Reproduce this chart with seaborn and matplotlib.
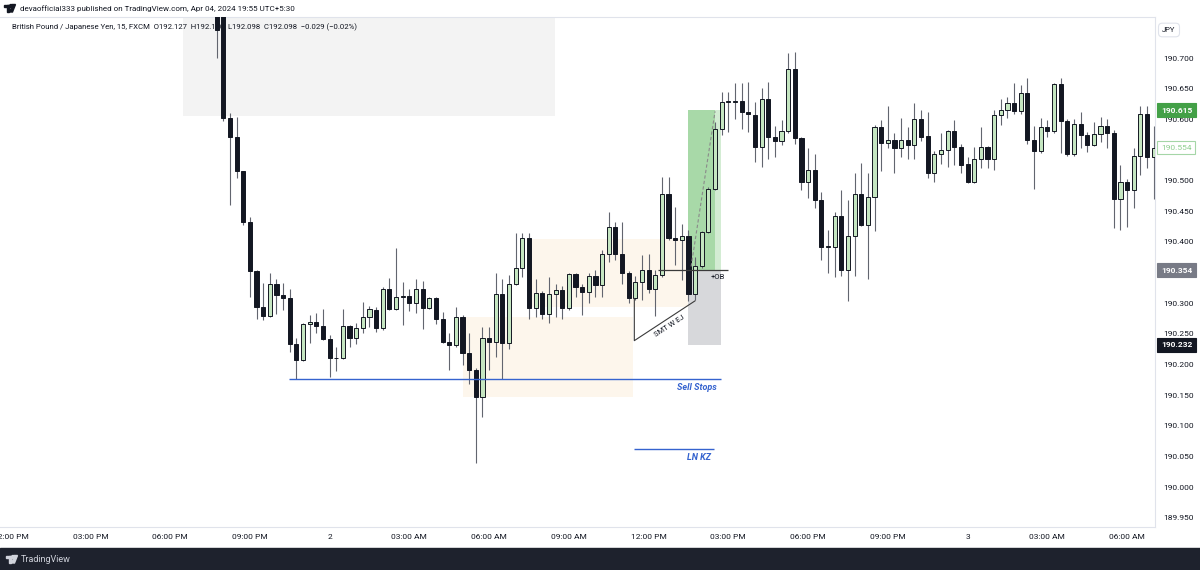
import numpy as np
import pandas as pd
import matplotlib
matplotlib.use("Agg")
import matplotlib.pyplot as plt
import seaborn as sns
from matplotlib.patches import Rectangle, Circle, Polygon
from matplotlib.transforms import blended_transform_factory, Affine2D

# ---------------- data (GBPJPY, 15 min, FXCM) ----------------
first_bar_time = "2024-04-01 19:45"
bar_minutes = 15

opens = [
    190.820, 190.770, 190.602, 190.572, 190.515, 190.433, 190.353, 190.294, 190.279, 190.331,
    190.313, 190.308, 190.233, 190.207, 190.266, 190.270, 190.263, 190.241, 190.210, 190.210,
    190.263, 190.244, 190.259, 190.278, 190.289, 190.259, 190.324, 190.290, 190.310, 190.312,
    190.301, 190.324, 190.293, 190.308, 190.274, 190.237, 190.232, 190.278, 190.219, 190.191,
    190.147, 190.243, 190.237, 190.315, 190.235, 190.332, 190.357, 190.406, 190.293, 190.316,
    190.282, 190.315, 190.322, 190.293, 190.347, 190.327, 190.319, 190.345, 190.330, 190.380,
    190.425, 190.380, 190.350, 190.308, 190.335, 190.354, 190.324, 190.346, 190.479, 190.406,
    190.403, 190.410, 190.315, 190.360, 190.417, 190.487, 190.585, 190.629, 190.629, 190.630,
    190.612, 190.607, 190.555, 190.634, 190.572, 190.565, 190.581, 190.682, 190.569, 190.498,
    190.517, 190.468, 190.392, 190.392, 190.442, 190.354, 190.410, 190.479, 190.427, 190.474,
    190.588, 190.561, 190.566, 190.553, 190.566, 190.558, 190.600, 190.573, 190.513, 190.543,
    190.550, 190.581, 190.555, 190.527, 190.498, 190.536, 190.555, 190.536, 190.607, 190.616,
    190.626, 190.614, 190.643, 190.567, 190.549, 190.588, 190.581, 190.658, 190.598, 190.543,
    190.593, 190.574, 190.558, 190.576, 190.589, 190.578, 190.470, 190.498, 190.484, 190.540,
    190.609, 190.538]

highs = [
    190.840, 190.780, 190.610, 190.604, 190.516, 190.441, 190.354, 190.333, 190.349, 190.339,
    190.333, 190.324, 190.243, 190.267, 190.281, 190.284, 190.290, 190.248, 190.229, 190.290,
    190.264, 190.267, 190.302, 190.295, 190.294, 190.327, 190.342, 190.390, 190.335, 190.323,
    190.339, 190.337, 190.310, 190.311, 190.286, 190.251, 190.294, 190.281, 190.251, 190.194,
    190.262, 190.262, 190.350, 190.339, 190.346, 190.414, 190.414, 190.414, 190.339, 190.320,
    190.343, 190.332, 190.328, 190.350, 190.349, 190.332, 190.349, 190.355, 190.387, 190.449,
    190.433, 190.433, 190.352, 190.344, 190.379, 190.381, 190.354, 190.506, 190.506, 190.457,
    190.429, 190.419, 190.376, 190.418, 190.490, 190.595, 190.645, 190.645, 190.659, 190.659,
    190.661, 190.629, 190.651, 190.661, 190.589, 190.599, 190.708, 190.710, 190.572, 190.553,
    190.544, 190.482, 190.419, 190.449, 190.485, 190.468, 190.512, 190.529, 190.512, 190.591,
    190.599, 190.621, 190.578, 190.603, 190.588, 190.627, 190.615, 190.612, 190.548, 190.577,
    190.583, 190.599, 190.560, 190.539, 190.555, 190.587, 190.556, 190.615, 190.633, 190.637,
    190.659, 190.656, 190.667, 190.589, 190.602, 190.599, 190.659, 190.667, 190.600, 190.600,
    190.612, 190.580, 190.596, 190.604, 190.600, 190.582, 190.525, 190.502, 190.554, 190.622,
    190.622, 190.589]

lows = [
    190.700, 190.598, 190.460, 190.504, 190.428, 190.311, 190.274, 190.273, 190.278, 190.282,
    190.289, 190.221, 190.176, 190.206, 190.235, 190.251, 190.240, 190.179, 190.190, 190.209,
    190.229, 190.233, 190.251, 190.262, 190.253, 190.257, 190.289, 190.289, 190.264, 190.288,
    190.284, 190.258, 190.290, 190.266, 190.235, 190.191, 190.229, 190.199, 190.169, 190.039,
    190.115, 190.191, 190.213, 190.176, 190.226, 190.330, 190.343, 190.274, 190.278, 190.275,
    190.267, 190.277, 190.274, 190.289, 190.311, 190.281, 190.300, 190.311, 190.311, 190.368,
    190.370, 190.332, 190.300, 190.306, 190.305, 190.316, 190.279, 190.343, 190.403, 190.362,
    190.338, 190.303, 190.305, 190.358, 190.415, 190.485, 190.574, 190.580, 190.600, 190.585,
    190.580, 190.531, 190.523, 190.535, 190.538, 190.558, 190.577, 190.560, 190.485, 190.471,
    190.455, 190.370, 190.349, 190.343, 190.344, 190.304, 190.344, 190.426, 190.339, 190.418,
    190.515, 190.553, 190.512, 190.538, 190.535, 190.535, 190.565, 190.505, 190.498, 190.528,
    190.523, 190.525, 190.513, 190.496, 190.497, 190.520, 190.520, 190.518, 190.591, 190.603,
    190.609, 190.609, 190.560, 190.487, 190.545, 190.571, 190.578, 190.545, 190.540, 190.540,
    190.553, 190.547, 190.556, 190.563, 190.554, 190.422, 190.419, 190.424, 190.455, 190.509,
    190.520, 190.470]

closes = [
    190.746, 190.603, 190.572, 190.515, 190.433, 190.353, 190.294, 190.279, 190.331, 190.313,
    190.308, 190.233, 190.207, 190.266, 190.270, 190.263, 190.241, 190.210, 190.211, 190.263,
    190.244, 190.259, 190.278, 190.290, 190.259, 190.324, 190.290, 190.310, 190.311, 190.301,
    190.324, 190.293, 190.308, 190.274, 190.237, 190.232, 190.278, 190.219, 190.191, 190.147,
    190.243, 190.237, 190.315, 190.235, 190.332, 190.358, 190.406, 190.293, 190.316, 190.282,
    190.315, 190.322, 190.293, 190.347, 190.327, 190.319, 190.345, 190.330, 190.380, 190.425,
    190.380, 190.350, 190.308, 190.335, 190.354, 190.324, 190.346, 190.479, 190.406, 190.403,
    190.410, 190.315, 190.360, 190.417, 190.487, 190.585, 190.629, 190.629, 190.630, 190.612,
    190.609, 190.555, 190.634, 190.572, 190.565, 190.581, 190.682, 190.569, 190.498, 190.517,
    190.468, 190.392, 190.392, 190.442, 190.354, 190.410, 190.479, 190.427, 190.474, 190.588,
    190.561, 190.566, 190.553, 190.566, 190.558, 190.600, 190.572, 190.513, 190.543, 190.550,
    190.581, 190.555, 190.525, 190.498, 190.536, 190.555, 190.536, 190.607, 190.616, 190.626,
    190.614, 190.643, 190.567, 190.549, 190.588, 190.581, 190.658, 190.598, 190.543, 190.593,
    190.574, 190.558, 190.576, 190.589, 190.578, 190.470, 190.498, 190.484, 190.540, 190.609,
    190.538, 190.554]

# y-axis ticks and labels (190.350 / 190.550 are hidden behind level labels)
price_ticks = [189.950, 190.000, 190.050, 190.100, 190.150, 190.200, 190.250, 190.300,
               190.400, 190.450, 190.500, 190.600, 190.650, 190.700]
tick_label_times = pd.date_range("2024-04-01 12:00", "2024-04-03 06:00", freq="3h")

# drawings (bar index ranges and price levels)
premium_zone = (-5.1, 50.9, 190.605, 190.900)     # grey box top-left
fvg_low = (37.1, 62.65, 190.147, 190.277)          # lower peach box
fvg_high = (47.15, 70.9, 190.294, 190.405)          # upper peach box
position_x = (70.9, 75.0, 75.9)
take_profit, entry, stop_loss, last_price = 190.615, 190.354, 190.232, 190.554
ob_line = (66.4, 76.9)
sell_stops = (10.9, 75.9, 190.176)
ln_kz = (62.8, 74.9, 190.062)
smt_path_x = [62.85, 62.85, 72.0]
smt_path_y = [190.308, 190.239, 190.304]
dashed_x = [71.4, 75.0]
dashed_y = [190.360, 190.613]

# ---------------- styling ----------------
sns.set_theme(style="white")
plt.rcParams["font.family"] = ["Roboto", "DejaVu Sans"]

W, H = 1200, 570
fig = plt.figure(figsize=(12, 5.7), dpi=100)
fig.patch.set_facecolor("white")
ax = fig.add_axes([0.0, 43 / 570, 1155 / 1200, 510 / 570])
ax.set_facecolor("white")

df = pd.DataFrame({"open": opens, "high": highs, "low": lows, "close": closes})
df["i"] = np.arange(len(df))
df["bull"] = df["close"] >= df["open"]
df["bottom"] = df[["open", "close"]].min(axis=1)
df["height"] = (df["close"] - df["open"]).abs().clip(lower=0.0012)

GREEN = "#c5e6c1"
BLACK = "#131722"
WICK = "#62656f"

# drawings (background)
ax.add_patch(Rectangle((premium_zone[0], premium_zone[2]), premium_zone[1] - premium_zone[0],
                       premium_zone[3] - premium_zone[2], fc="#f3f3f3", ec="none", zorder=0.5))
for z in (fvg_low, fvg_high):
    ax.add_patch(Rectangle((z[0], z[2]), z[1] - z[0], z[3] - z[2], fc="#fdf6ec", ec="none", zorder=0.6))
ax.add_patch(Rectangle((position_x[0], entry), position_x[1] - position_x[0], take_profit - entry,
                       fc="#a8d9a8", ec="none", zorder=0.7))
ax.add_patch(Rectangle((position_x[1], entry), position_x[2] - position_x[1], take_profit - entry,
                       fc="#d3ecd3", ec="none", zorder=0.7))
ax.add_patch(Rectangle((position_x[0], stop_loss), position_x[2] - position_x[0], entry - stop_loss,
                       fc="#d7d8db", ec="none", zorder=0.7))

# header text (drawn under candles)
ax.text(12 / 1155, 1 - 10 / 510,
        "British Pound / Japanese Yen, 15, FXCM  O192.127  H192.170  L192.098  C192.098  \u22120.029 (\u22120.02%)",
        transform=ax.transAxes, ha="left", va="center", fontsize=5.6, color="#131722", zorder=0.9)

# candles
ax.vlines(df["i"], df["low"], df["high"], color=WICK, lw=0.8, zorder=2)
ax.bar(df["i"], df["height"], bottom=df["bottom"], width=0.62,
       color=np.where(df["bull"], GREEN, BLACK), edgecolor=BLACK, linewidth=0.7, zorder=3)

# lines on top
ax.plot(dashed_x, dashed_y, color="#8a8a8a", lw=0.8, ls=(0, (3, 2)), zorder=4)
ax.hlines(entry, ob_line[0], ob_line[1], color="#3a3a3a", lw=0.9, zorder=4)
ax.text(74.4, 190.343, "+OB", fontsize=5.5, color="#131722", ha="left", va="center", zorder=5)
ax.plot(smt_path_x, smt_path_y, color="#3a3a3a", lw=0.8, zorder=4)
ax.text(68.1, 190.263, "SMT W EJ", fontsize=5.5, color="#131722", rotation=33,
        rotation_mode="anchor", ha="center", va="center", zorder=5)
BLUE = "#3563cf"
ax.hlines(sell_stops[2], sell_stops[0], sell_stops[1], color=BLUE, lw=1.0, zorder=4)
ax.text(75.3, 190.163, "Sell Stops", fontsize=6.5, color=BLUE, fontweight="bold",
        fontstyle="italic", ha="right", va="center", zorder=5)
ax.hlines(ln_kz[2], ln_kz[0], ln_kz[1], color=BLUE, lw=1.0, zorder=4)
ax.text(74.4, 190.049, "LN KZ", fontsize=6.5, color=BLUE, fontweight="bold",
        fontstyle="italic", ha="right", va="center", zorder=5)

# axes limits / ticks
ax.set_xlim(-32.6, 141.2)
ax.set_ylim(189.935, 190.767)
ax.yaxis.tick_right()
ax.set_yticks(price_ticks)
ax.set_yticklabels([f"{v:.3f}" for v in price_ticks])
t0 = pd.Timestamp(first_bar_time)
tick_pos = [(t - t0) / pd.Timedelta(minutes=bar_minutes) for t in tick_label_times]
tick_lab = [str(t.day) if t.hour == 0 else t.strftime("%I:%M %p") for t in tick_label_times]
ax.set_xticks(tick_pos)
ax.set_xticklabels(tick_lab)
ax.tick_params(axis="y", length=0, pad=6, labelsize=6, colors="#131722")
ax.tick_params(axis="x", length=0, pad=5, labelsize=6, colors="#131722")
ax.grid(False)
ax.spines["left"].set_visible(False)
for s in ("right", "bottom", "top"):
    ax.spines[s].set_color("#e0e3eb")
    ax.spines[s].set_linewidth(0.8)

# price level labels on the right axis
trans = blended_transform_factory(ax.transAxes, ax.transData)
levels = [(take_profit, "white", "#43a047", "#43a047"),
          (last_price, "#8fce8f", "white", "#a5d6a7"),
          (entry, "white", "#787b86", "#787b86"),
          (stop_loss, "white", "#131722", "#131722")]
for val, tc, fc, ec in levels:
    ax.text(1161 / 1155, val, f"{val:.3f}", transform=trans, ha="left", va="center",
            fontsize=6, color=tc, fontweight="bold" if fc != "white" else "normal",
            bbox=dict(boxstyle="square,pad=0.45", fc=fc, ec=ec, lw=0.8), clip_on=False, zorder=10)

fig.text(1169 / W, 1 - 30 / H, "JPY", ha="center", va="center", fontsize=5.5, color="#131722",
         bbox=dict(boxstyle="round,pad=0.5", fc="white", ec="#e0e3eb", lw=0.8))

# publisher line
px = Affine2D().scale(1 / W, 1 / H) + fig.transFigure


def tv_logo(x, ytop, color):
    # simple TradingView-like logo in pixel coords (y from top)
    fig.patches.append(Rectangle((x, H - ytop - 2.5), 5.5, 2.5, transform=px, color=color))
    fig.patches.append(Rectangle((x + 2.5, H - ytop - 7.5), 2.5, 7.5, transform=px, color=color))
    fig.patches.append(Circle((x + 7.0, H - ytop - 1.3), 1.3, transform=px, color=color))
    fig.patches.append(Polygon([(x + 8.5, H - ytop), (x + 11.5, H - ytop),
                                (x + 8.5, H - ytop - 7.5), (x + 5.8, H - ytop - 7.5)],
                               closed=True, transform=px, color=color))


tv_logo(4, 4.5, "#131722")
fig.text(20 / W, 1 - 8.5 / H,
         "devaofficial333 published on TradingView.com, Apr 04, 2024 19:55 UTC+5:30",
         ha="left", va="center", fontsize=5.8, color="#131722")

# footer
fig.patches.append(Rectangle((0, 0), 1, 22 / H, transform=fig.transFigure, color="#1e222d", zorder=0))
tv_logo(6, 555.5, "#d1d4dc")
fig.text(21 / W, 11 / H, "TradingView", ha="left", va="center", fontsize=6.5, color="#d1d4dc")

fig.savefig("out.png", dpi=100)
